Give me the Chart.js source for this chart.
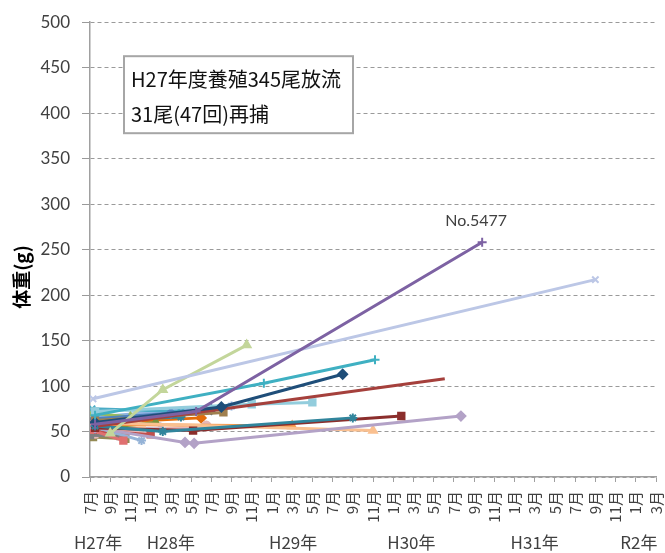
<!DOCTYPE html>
<html>
<head>
<meta charset="utf-8">
<script src="https://cdn.jsdelivr.net/npm/chart.js@4"></script>
<style>
  body { margin: 0; background: #fff; }
  #wrap { width: 665px; height: 553px; }
</style>
</head>
<body>
<div id="wrap"><canvas id="growth" width="665" height="553"></canvas></div>
<script>
// months counted from 7月 H27 (0) to 3月 R2 (56)
const monthMin = 0;
const monthMax = 56;
const weightTicks = [0, 50, 100, 150, 200, 250, 300, 350, 400, 450, 500];
const yearLabels = ['H27年', 'H28年', 'H29年', 'H30年', 'H31年', 'R2年'];
const yearLabelAt = [0.8, 8, 20.1, 31.8, 44, 54.3];

// recapture records, one row per fish: month index and body weight (g)
const fishMonths = [
  [0.5, 10.5, 38.8],
  [0.3, 50],
  [2, 7.2, 15.5],
  [0.5, 17.2, 28.2],
  [0.5, 13, 25],
  [0.8, 35.1],
  [0.5, 16, 22],
  [0.5, 7.2, 26],
  [0.5, 10.2, 30.8],
  [0.5, 9.4, 10.3, 36.7],
  [0.5, 28],
  [0, 3.3],
  [0.5, 5.1],
  [0.5, 13.2],
  [0.5, 20],
  [0, 3],
  [0.5, 8],
  [0.3, 4],
  [0.3, 6],
  [0.2, 9],
  [0.5, 11.5],
  [0.5, 14],
  [0.2, 2],
  [0.6, 6.5],
  [0.4, 12],
  [0.1, 1.5],
  [0.7, 5],
  [0.3, 3.5],
  [0.5, 9],
  [0.2, 7],
  [0.4, 11]
];
const fishWeights = [
  [58, 72, 258],
  [86, 217],
  [48, 96, 145],
  [68, 103, 129],
  [60, 77, 113],
  [56, 108],
  [72, 80, 82],
  [56, 50, 65],
  [54, 51, 67],
  [54, 38, 37, 67],
  [60, 51],
  [52, 40],
  [55, 40],
  [62, 71],
  [58, 56],
  [46, 45],
  [64, 70],
  [70, 66],
  [50, 47],
  [75, 72],
  [48, 56],
  [66, 78],
  [60, 58],
  [53, 60],
  [63, 74],
  [68, 64],
  [57, 55],
  [44, 42],
  [62, 66],
  [52, 54],
  [59, 65]
];
const fishColors = [
  '#7d62a3', '#bcc7e6', '#c3d69b', '#3fb0c2', '#1f4e79', '#a5403c', '#93cddd', '#31859c',
  '#8b2e2c', '#b3a2c7', '#fac090', '#e07070', '#95b3d7', '#a0804f', '#f79646', '#7f7f7f',
  '#4f81bd', '#9bbb59', '#c0504d', '#4aacc6', '#e6b9b8', '#8db3e2', '#d99694', '#76923c',
  '#366092', '#b7dee8', '#fcd5b4', '#948a54', '#31849b', '#ccc0da', '#e46c0a'
];
const fishMarkers = [
  'cross', 'crossRot', 'triangle', 'cross', 'rectRot', false, 'rect', 'star',
  'rect', 'rectRot', 'triangle', 'rect', 'star', 'rect', 'triangle', 'rect',
  'rectRot', 'triangle', 'rect', 'crossRot', 'circle', 'star', 'rect', 'triangle',
  'rectRot', 'cross', 'circle', 'rect', 'star', 'triangle', 'rectRot'
];
const tagLabel = 'No.5477';
const noteLines = ['H27年度養殖345尾放流', '31尾(47回)再捕'];

const datasets = fishMonths.map((months, i) => ({
  data: months.map((m, j) => ({ x: m, y: fishWeights[i][j] })),
  borderColor: fishColors[i],
  backgroundColor: fishColors[i],
  pointStyle: fishMarkers[i] || 'circle',
  pointRadius: fishMarkers[i] ? 4.5 : 0,
  pointBorderWidth: 2,
  borderWidth: 3,
  showLine: true,
  tension: 0
}));

const txtColor = '#404040';

const extras = {
  id: 'extras',
  afterDraw(chart) {
    const { ctx, chartArea, scales } = chart;
    ctx.save();

    // y axis title
    ctx.translate(22, scales.y.getPixelForValue(220));
    ctx.rotate(-Math.PI / 2);
    ctx.font = 'bold 19px "Noto Sans CJK JP"';
    ctx.fillStyle = '#000';
    ctx.textAlign = 'center';
    ctx.textBaseline = 'middle';
    ctx.fillText('体重(g)', 0, 0);
    ctx.setTransform(1, 0, 0, 1, 0, 0);

    // year row under the month ticks
    ctx.font = '17px "Noto Sans CJK JP"';
    ctx.fillStyle = txtColor;
    yearLabels.forEach((t, i) => {
      ctx.fillText(t, scales.x.getPixelForValue(yearLabelAt[i]), 543);
    });

    // tag above the heaviest fish
    const pts = chart.getDatasetMeta(0).data;
    const last = pts[pts.length - 1];
    ctx.font = '16px Lato';
    ctx.fillText(tagLabel, last.x - 6, last.y - 21);

    // note box
    const bx = chartArea.left + 34, by = chartArea.top + 34, bw = 229, bh = 77;
    ctx.fillStyle = '#fff';
    ctx.fillRect(bx, by, bw, bh);
    ctx.strokeStyle = '#a6a6a6';
    ctx.lineWidth = 2;
    ctx.strokeRect(bx, by, bw, bh);
    ctx.fillStyle = '#111';
    ctx.font = '20px "Noto Sans CJK JP"';
    ctx.textAlign = 'left';
    ctx.fillText(noteLines[0], bx + 7, by + 23);
    ctx.fillText(noteLines[1], bx + 7, by + 58);
    ctx.restore();
  }
};

new Chart(document.getElementById('growth'), {
  type: 'scatter',
  data: { datasets },
  options: {
    responsive: false,
    animation: false,
    layout: { padding: { top: 19, right: 9, left: 0, bottom: 0 } },
    plugins: { legend: { display: false }, tooltip: { enabled: false } },
    scales: {
      x: {
        type: 'linear',
        min: monthMin,
        max: monthMax,
        afterFit: s => { s.height = 76; s.paddingLeft = 0; s.paddingRight = 0; },
        grid: { drawOnChartArea: false, color: '#a0a0a0', tickLength: 5 },
        border: { color: '#a0a0a0', width: 1.5 },
        ticks: {
          stepSize: 2,
          autoSkip: false,
          minRotation: 90,
          maxRotation: 90,
          padding: 9,
          color: txtColor,
          font: { family: '"Noto Sans CJK JP"', size: 15 },
          callback: v => ((v + 6) % 12 + 1) + '月'
        }
      },
      y: {
        min: weightTicks[0],
        max: weightTicks[weightTicks.length - 1],
        afterFit: s => { s.width = 90; },
        afterBuildTicks: s => { s.ticks = weightTicks.map(v => ({ value: v })); },
        grid: { color: '#9a9a9a', tickLength: 8 },
        border: { color: '#a0a0a0', width: 1.5, dash: [4, 3] },
        ticks: {
          padding: 12,
          color: txtColor,
          font: { family: 'Lato', size: 17 }
        }
      }
    }
  },
  plugins: [extras]
});
</script>
</body>
</html>
